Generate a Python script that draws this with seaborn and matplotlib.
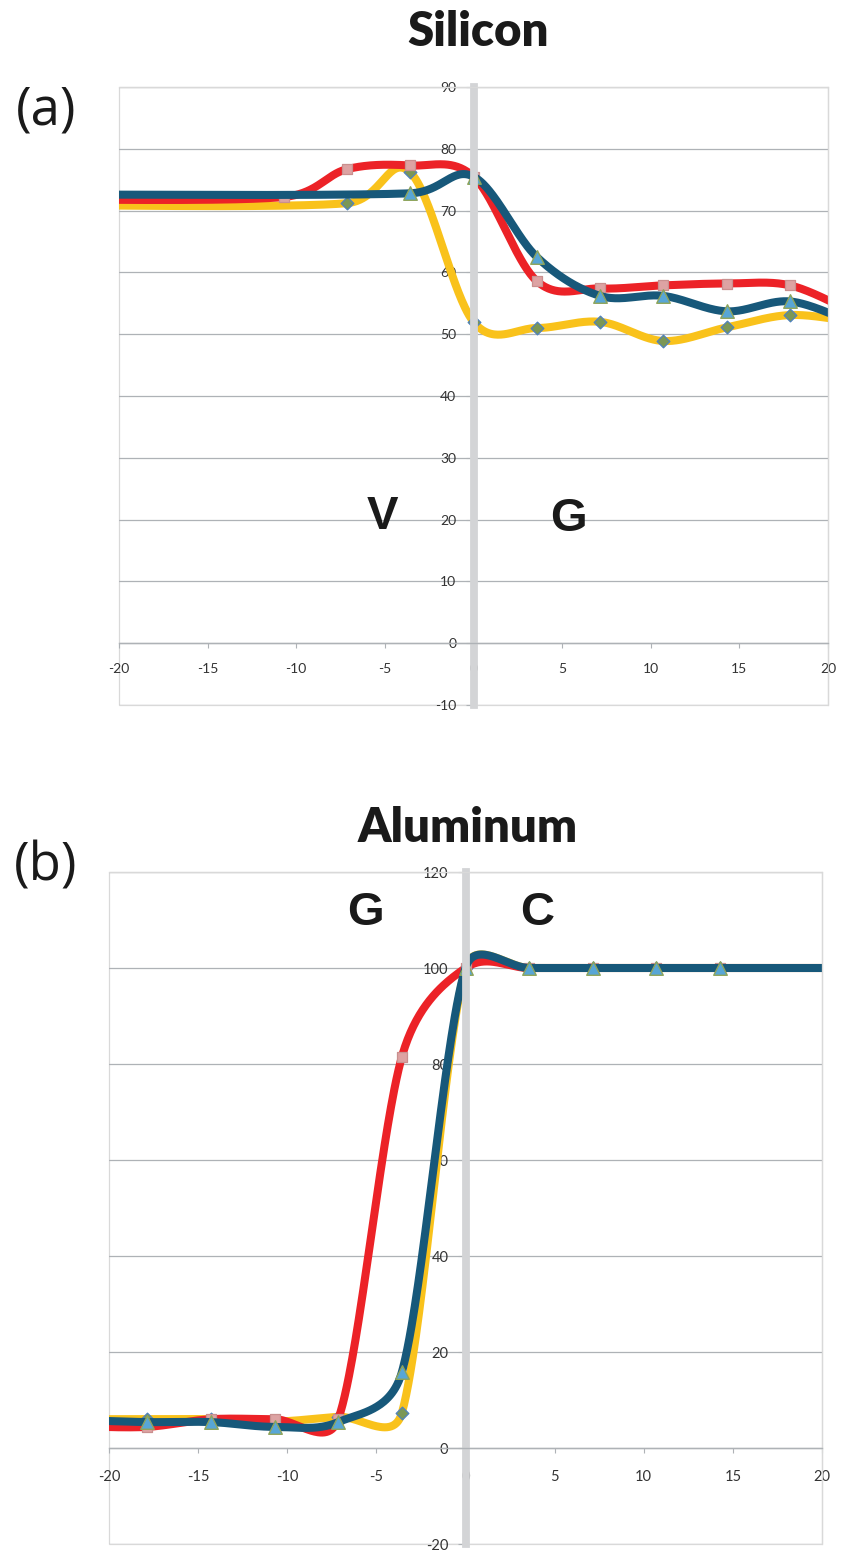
import numpy as np
import matplotlib
matplotlib.use("Agg")
import matplotlib.pyplot as plt
from matplotlib.patches import Rectangle
import seaborn as sns

# ---- data -------------------------------------------------------------
# Silicon panel (a): each series has its own sampling positions
si_red_x = [-25.0, -10.71, -7.14, -3.57, 0.0, 3.57, 7.14, 10.71, 14.29, 17.86, 21.43]
si_red = [71.8, 72.2, 76.7, 77.3, 75.5, 58.6, 57.4, 57.9, 58.2, 57.9, 53.5]
si_yellow_x = [-25.0, -7.14, -3.57, 0.0, 3.57, 7.14, 10.71, 14.29, 17.86, 21.43]
si_yellow = [70.9, 71.2, 76.2, 52.0, 51.0, 52.0, 48.9, 51.1, 53.1, 52.0]
si_blue_x = [-25.0, -3.57, 0.0, 3.57, 7.14, 10.71, 14.29, 17.86, 21.43]
si_blue = [72.6, 72.8, 75.5, 62.5, 56.2, 56.2, 53.7, 55.3, 51.8]

# Aluminum panel (b)
al_x = [-21.43, -17.86, -14.29, -10.71, -7.14, -3.57, 0.0, 3.57, 7.14, 10.71, 14.29, 25.0]
al_red = [4.5, 4.4, 6.0, 6.0, 6.0, 81.5, 100.0, 100.0, 100.0, 100.0, 100.0, 100.0]
al_yellow = [6.0, 6.0, 6.0, 5.5, 6.5, 7.3, 100.0, 100.0, 100.0, 100.0, 100.0, 100.0]
al_blue = [5.8, 5.4, 5.4, 4.4, 5.4, 15.8, 100.0, 100.0, 100.0, 100.0, 100.0, 100.0]

x_ticks = [-20, -15, -10, -5, 0, 5, 10, 15, 20]
si_yticks = [-10, 0, 10, 20, 30, 40, 50, 60, 70, 80, 90]
al_yticks = [-20, 0, 20, 40, 60, 80, 100, 120]

# ---- style --------------------------------------------------------------
sns.set_theme(style="white")
plt.rcParams["font.family"] = ["Lato", "DejaVu Sans"]
plt.rcParams["axes.unicode_minus"] = False

RED, YELLOW, BLUE = "#ec2227", "#f9c21b", "#17587a"
GRID = "#aeb2b6"
FRAME = "#d9d9d9"
BAR = "#d3d4d6"
TICK_TXT = "#333333"

fig = plt.figure(figsize=(8.42, 15.52), dpi=100)
ax1 = fig.add_axes([119 / 842, 1 - 705 / 1552, (828 - 119) / 842, (705 - 87) / 1552])
ax2 = fig.add_axes([109 / 842, 1 - 1544 / 1552, (822 - 109) / 842, (1544 - 872) / 1552])


def smooth_curve(x, y, sx, sy, n=60):
    """Bezier smoothing of a polyline (spreadsheet-style smoothed line).
    Works in screen units (sx, sy px per data unit)."""
    P = np.column_stack([np.asarray(x) * sx, np.asarray(y) * sy])
    out = []
    t = np.linspace(0, 1, n)[:, None]
    for i in range(len(P) - 1):
        p0 = P[i - 1] if i > 0 else P[i]
        p1, p2 = P[i], P[i + 1]
        p3 = P[i + 2] if i + 2 < len(P) else P[i + 1]
        seg = np.linalg.norm(p2 - p1)
        t1 = (p2 - p0) / 6.0
        t2 = (p3 - p1) / 6.0
        lim = 0.5 * seg
        for tv in (t1, t2):
            L = np.linalg.norm(tv)
            if L > lim and L > 0:
                tv *= lim / L
        c1, c2 = p1 + t1, p2 - t2
        B = ((1 - t) ** 3) * p1 + 3 * ((1 - t) ** 2) * t * c1 + 3 * (1 - t) * t ** 2 * c2 + t ** 3 * p2
        out.append(B if i == 0 else B[1:])
    B = np.vstack(out)
    return B[:, 0] / sx, B[:, 1] / sy


MARKERS = {
    "yellow": dict(marker="D", s=42, color="#7b9756", edgecolor="#4f81bd", linewidth=0.9),
    "red": dict(marker="s", s=50, color="#dda3a3", edgecolor="#c9908f", linewidth=0.9),
    "blue": dict(marker="^", s=95, color="#58a6d6", edgecolor="#8ea45a", linewidth=1.0),
}


def draw_panel(ax, series, ylim, yticks, fs, xpad):
    bbox = ax.get_position()
    w_px = bbox.width * fig.get_figwidth() * fig.dpi
    h_px = bbox.height * fig.get_figheight() * fig.dpi
    sx = w_px / 40.0
    sy = h_px / (ylim[1] - ylim[0])

    z = 2.0
    for name, color, xs, ys in series:
        cx, cy = smooth_curve(xs, ys, sx, sy)
        sns.lineplot(x=cx, y=cy, ax=ax, color=color, linewidth=5.8, sort=False,
                     estimator=None, zorder=z, solid_capstyle="butt")
        sns.scatterplot(x=xs, y=ys, ax=ax, zorder=z + 0.05, legend=False, **MARKERS[name])
        z += 0.1

    ax.set_xlim(-20, 20)
    ax.set_ylim(*ylim)
    ax.set_xticks(x_ticks)
    ax.set_yticks(yticks)
    ax.set_xticklabels([str(v) for v in x_ticks])
    ax.set_yticklabels([str(v) for v in yticks])
    ax.set_xlabel("")
    ax.set_ylabel("")

    ax.yaxis.grid(True, color=GRID, linewidth=0.9)
    ax.xaxis.grid(False)

    # axes cross at the origin
    ax.spines["left"].set_position(("data", 0))
    ax.spines["left"].set_color(BAR)
    ax.spines["left"].set_linewidth(5.6)
    ax.spines["bottom"].set_position(("data", 0))
    ax.spines["bottom"].set_color(GRID)
    ax.spines["bottom"].set_linewidth(1.0)
    for s in ("top", "right"):
        ax.spines[s].set_color(FRAME)
        ax.spines[s].set_linewidth(0.9)
    ax.add_patch(Rectangle((0, 0), 1, 1, transform=ax.transAxes, fill=False,
                           edgecolor=FRAME, linewidth=0.9, zorder=0.4, clip_on=False))

    ax.tick_params(axis="x", direction="out", length=3.6, width=0.8, color=GRID,
                   labelsize=fs, labelcolor=TICK_TXT, pad=xpad, bottom=True)
    ax.tick_params(axis="y", direction="out", length=6.0, width=0.8, color=GRID,
                   labelsize=fs, labelcolor=TICK_TXT, pad=6.3, left=True)


draw_panel(ax1,
           [("yellow", YELLOW, si_yellow_x, si_yellow),
            ("red", RED, si_red_x, si_red),
            ("blue", BLUE, si_blue_x, si_blue)],
           (-10, 90), si_yticks, 10, 10.5)
draw_panel(ax2,
           [("yellow", YELLOW, al_x, al_yellow),
            ("red", RED, al_x, al_red),
            ("blue", BLUE, al_x, al_blue)],
           (-20, 120), al_yticks, 10.5, 12.5)

# region labels
lab = dict(fontsize=34, fontweight="bold", family=["Liberation Sans", "DejaVu Sans"],
           color="#1a1a1a", ha="center", va="center", zorder=5)
ax1.text(-5.15, 20.4, "V", **lab)
ax1.text(5.35, 20.1, "G", **lab)
ax2.text(-5.6, 111.5, "G", **lab)
ax2.text(4.0, 111.5, "C", **lab)

# panel titles and letters
fig.text(478 / 842, 1 - 32 / 1552, "Silicon", fontsize=34, fontweight="heavy",
         ha="center", va="center", color="#1a1a1a")
fig.text(468 / 842, 1 - 828 / 1552, "Aluminum", fontsize=34, fontweight="heavy",
         ha="center", va="center", color="#1a1a1a")
fig.text(46 / 842, 1 - 111 / 1552, "(a)", fontsize=38, family=["Open Sans", "DejaVu Sans"],
         ha="center", va="center", color="#1a1a1a")
fig.text(46 / 842, 1 - 867 / 1552, "(b)", fontsize=38, family=["Open Sans", "DejaVu Sans"],
         ha="center", va="center", color="#1a1a1a")

fig.savefig("out.png", dpi=100)
